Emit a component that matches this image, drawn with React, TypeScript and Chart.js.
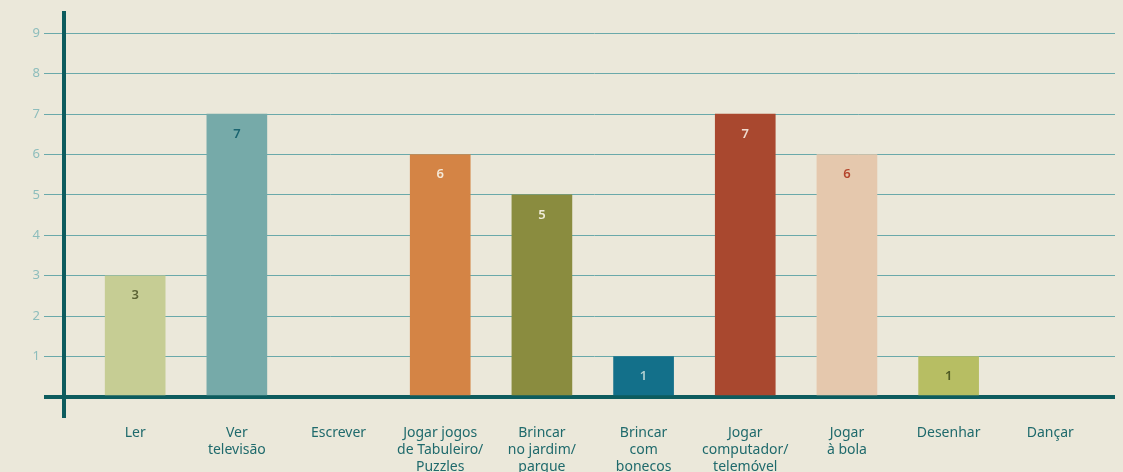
import { useEffect, useRef } from 'react';
import { Chart, registerables } from 'chart.js';

Chart.register(...registerables);

const categories: (string | string[])[] = [
  'Ler',
  ['Ver', 'televisão'],
  'Escrever',
  ['Jogar jogos', 'de Tabuleiro/', 'Puzzles'],
  ['Brincar', 'no jardim/', 'parque'],
  ['Brincar', 'com', 'bonecos'],
  ['Jogar', 'computador/', 'telemóvel'],
  ['Jogar', 'à bola'],
  'Desenhar',
  'Dançar',
];
const values = [3, 7, 0, 6, 5, 1, 7, 6, 1, 0];
const barColors = ['#c6cd94', '#76aaa9', '#76aaa9', '#d48445', '#8a8c3f', '#13708a', '#a9482f', '#e5c8ad', '#b7be63', '#b7be63'];
const valueLabelColors = ['#5b6234', '#1a6470', '#1a6470', '#f5e9d8', '#f0ecd9', '#b0d0d0', '#f0dcd0', '#b4452c', '#4f5a23', '#4f5a23'];
const yTicks = [0, 1, 2, 3, 4, 5, 6, 7, 8, 9];

const DARK = '#0d5c5e';
const GRID = '#6aa9aa';
const FONT = '"Noto Sans", sans-serif';

export default function App() {
  const ref = useRef<HTMLCanvasElement>(null);
  useEffect(() => {
    document.body.style.background = '#ebe8da';
    document.body.style.overflow = 'hidden';
    const valueLabels = {
      id: 'valueLabels',
      afterDatasetsDraw(chart: any) {
        const ctx = chart.ctx;
        const meta = chart.getDatasetMeta(0);
        meta.data.forEach((el: any, i: number) => {
          if (!values[i]) return;
          ctx.save();
          ctx.fillStyle = valueLabelColors[i];
          ctx.font = `600 13px ${FONT}`;
          ctx.textAlign = 'center';
          ctx.textBaseline = 'middle';
          ctx.fillText(String(values[i]), el.x, el.y + 20);
          ctx.restore();
        });
      },
    };
    const chart = new Chart(ref.current as HTMLCanvasElement, {
      type: 'bar',
      data: {
        datasets: [
          {
            data: values.map((v, i) => ({ x: i, y: v })),
            backgroundColor: barColors.map((c, i) => (values[i] === 0 ? 'rgba(0,0,0,0)' : c)),
            barThickness: 60,
          },
        ],
      },
      options: {
        animation: false,
        responsive: false,
        maintainAspectRatio: false,
        layout: { padding: { top: 5, left: 0, right: 0, bottom: 0 } },
        plugins: { legend: { display: false }, tooltip: { enabled: false } },
        scales: {
          x: {
            type: 'linear',
            offset: false,
            min: -0.7,
            max: 9.715,
            afterBuildTicks: (s: any) => {
              s.ticks = [-0.7, ...categories.map((_, i) => i)].map((v) => ({ value: v }));
            },
            afterFit: (s: any) => {
              s.height = 131;
              s.paddingLeft = 0;
              s.paddingRight = 0;
            },
            grid: {
              offset: false,
              drawOnChartArea: false,
              tickLength: 21,
              color: (c: any) => (c.index === 0 ? DARK : 'rgba(0,0,0,0)'),
              lineWidth: (c: any) => (c.index === 0 ? 4 : 0),
            },
            border: { color: DARK, width: 4 },
            ticks: {
              autoSkip: false,
              maxRotation: 0,
              minRotation: 0,
              padding: 7,
              color: '#1f6a6c',
              font: { family: FONT, size: 14 },
              callback: (v: any) => (Number.isInteger(v) ? (categories[v] as any) : ''),
            },
          },
          y: {
            min: 0,
            max: 9.5,
            afterBuildTicks: (s: any) => {
              s.ticks = yTicks.map((v) => ({ value: v }));
            },
            afterFit: (s: any) => {
              s.width = 56;
              s.paddingTop = 0;
              s.paddingBottom = 0;
            },
            grid: {
              tickLength: 20,
              color: (c: any) => (c.tick && c.tick.value === 0 ? DARK : GRID),
              lineWidth: (c: any) => (c.tick && c.tick.value === 0 ? 4 : 1),
            },
            border: { color: DARK, width: 4 },
            ticks: {
              padding: 4,
              color: '#8dbdbc',
              font: { family: FONT, size: 13 },
              callback: (v: any) => (v === 0 ? '' : String(v)),
            },
          },
        },
      },
      plugins: [valueLabels],
    } as any);
    return () => chart.destroy();
  }, []);
  return (
    <div style={{ width: 1115, height: 464, overflow: 'hidden' }}>
      <canvas ref={ref} width={1115} height={520} style={{ display: 'block' }} />
    </div>
  );
}
